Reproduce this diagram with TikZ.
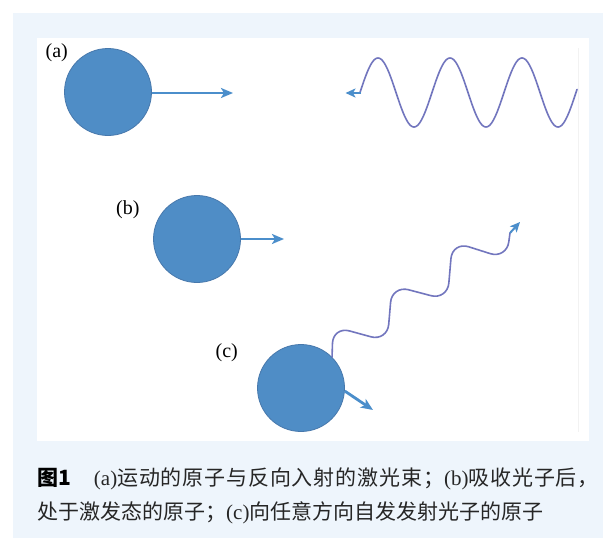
\documentclass[tikz,border=0pt]{standalone}
\usepackage{fontspec}
\setmainfont{Liberation Serif}
\newfontfamily\cjk{Noto Sans CJK SC}
\newfontfamily\cjkls{Noto Sans CJK SC}[LetterSpace=4.0]
\usetikzlibrary{arrows.meta}
\definecolor{bgblue}{HTML}{EEF5FC}
\definecolor{atomfill}{HTML}{4F8DC6}
\definecolor{atomline}{HTML}{4778AC}
\definecolor{arrblue}{HTML}{4B8ECB}
\definecolor{wavecol}{HTML}{7276BE}
\definecolor{captext}{HTML}{262626}
\tikzset{
  atom/.style={circle, fill=atomfill, draw=atomline, line width=0.8pt, minimum size=87pt, inner sep=0pt},
  motion/.style={draw=arrblue, line width=2.8pt, -{Stealth[length=12pt,width=10pt,inset=3pt]}},
  wave/.style={draw=wavecol, line width=1.6pt, line cap=round, line join=round},
  wavetip/.style={draw=arrblue, line width=2pt, -{Stealth[length=10pt,width=9pt,inset=2.5pt]}},
  lbl/.style={inner sep=0pt, font=\fontsize{20}{24}\selectfont},
  captionline/.style={inner sep=0pt, text=captext, font=\fontsize{21}{25}\selectfont}
}
\begin{document}
\begin{tikzpicture}[x=1pt,y=-1pt]
\useasboundingbox (0,0) rectangle (603,538);
% backgrounds
\fill[bgblue] (13,13) rectangle (603,538);
\fill[white] (37,38) rectangle (589,441);
\draw[black!5, line width=0.6pt] (578,48) -- (578,432);

% (a)
\node[lbl] (la) at (56.7,53) {(a)};
\node[atom] (A) at (108,92) {};
\coordinate (Atip) at (233,93);
\draw[motion] (A.east |- Atip) -- (Atip);
\draw[wave] plot[domain=360:577, samples=220] (\x, {92.5 - 34.5*sin((\x-360)*5)});
\coordinate (aEnd) at (361,93);
\coordinate (aTip) at (345.5,93);
\draw[wavetip] (aEnd) -- (aTip);

% (b)
\node[lbl] (lb) at (127.8,209.5) {(b)};
\node[atom] (B) at (197,239) {};
\coordinate (Btip) at (284,239);
\draw[motion] (B.east) -- (Btip);

% (c)
\node[lbl] (lc) at (226.7,353) {(c)};
\node[atom] (C) at (301,388) {};
\coordinate (Ctip) at (373,410);
\draw[motion] (C.-4) -- (Ctip);
\coordinate (cEnd) at (510,233);
\coordinate (cTip) at (520,222);
\draw[wave, rounded corners=17pt] (C.45) -- (333,326.4) -- (387.3,341.3) -- (392,285.4) -- (447.4,300) -- (452.4,241.6) -- (506.5,258.8) -- (cEnd);
\draw[wavetip] (cEnd) -- (cTip);

% caption
\node[captionline, anchor=base west] (cap1) at (37,485.5) {{\cjk\bfseries\color{black}图1}\hspace{23pt}(a){\cjkls 运动的原子与反向入射的激光束；}(b){\cjkls 吸收光子后，}};
\node[captionline, anchor=base west] (cap2) at (37,519.5) {{\cjk 处于激发态的原子；}(c){\cjk 向任意方向自发发射光子的原子}};
\end{tikzpicture}
\end{document}
